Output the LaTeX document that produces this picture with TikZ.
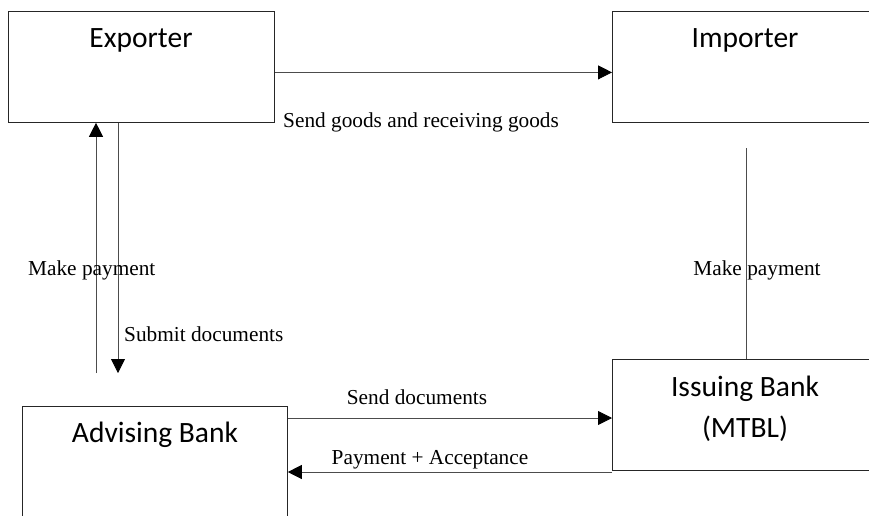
\documentclass[tikz,border=0pt]{standalone}
\usepackage{fontspec}
\setmainfont{Liberation Serif}
\newfontfamily\boxfont{Carlito}
\usetikzlibrary{arrows.meta}
\tikzset{
  box/.style={draw=black!85, line width=0.8pt, rectangle, minimum width=266pt, minimum height=111pt, anchor=north west, inner sep=0pt},
  boxtext/.style={font=\boxfont\fontsize{29.5}{35}\selectfont, inner sep=0pt, align=center},
  lbl/.style={font=\fontsize{21.3}{25}\selectfont, inner sep=0pt},
  conn/.style={draw=black!70, line width=0.8pt},
  arr/.style={conn, -{Triangle[length=14pt,width=14pt,color=black]}}
}
\begin{document}
\begin{tikzpicture}[x=1pt,y=-1pt]
\useasboundingbox (0,0) rectangle (869,515);
\fill[white] (0,0) rectangle (869,515);
\clip (0,0) rectangle (869,515);
% boxes
\node[box] (exp) at (8,11) {};
\node[boxtext] (expl) at (141,40) {Exporter};
\node[box] (imp) at (612,11) {};
\node[boxtext] (impl) at (745,40) {Importer};
\node[box] (iss) at (612,359) {};
\node[boxtext] (issl) at (745,409) {Issuing Bank\\[6pt](MTBL)};
\node[box, minimum width=265pt] (adv) at (22,406) {};
\node[boxtext] (advl) at (155,435) {Advising Bank};
% free ends
\coordinate (mpend) at (96,373);
\coordinate (sdend) at (118,373);
\coordinate (imptop) at (746,148);
% connectors
\draw[arr] ([yshift=-5.5pt]exp.east) -- ([yshift=-5.5pt]imp.west);
\draw[arr] (mpend) -- (mpend |- exp.south);
\draw[arr] (sdend |- exp.south) -- (sdend);
\draw[conn] (imptop) -- (imptop |- iss.north);
\draw[arr] (adv.east |- 0,418) -- (iss.west |- 0,418);
\draw[arr] (iss.west |- 0,472) -- (adv.east |- 0,472);
% labels
\node[lbl, anchor=west] (l1) at (283,122) {Send goods and receiving goods};
\node[lbl, anchor=west] (l2) at (28,270) {Make payment};
\node[lbl, anchor=west] (l3) at (124,334) {Submit documents};
\node[lbl] (l4) at (757,270) {Make payment};
\node[lbl] (l5) at (417,397) {Send documents};
\node[lbl] (l6) at (430,460) {Payment + Acceptance};
\end{tikzpicture}
\end{document}
